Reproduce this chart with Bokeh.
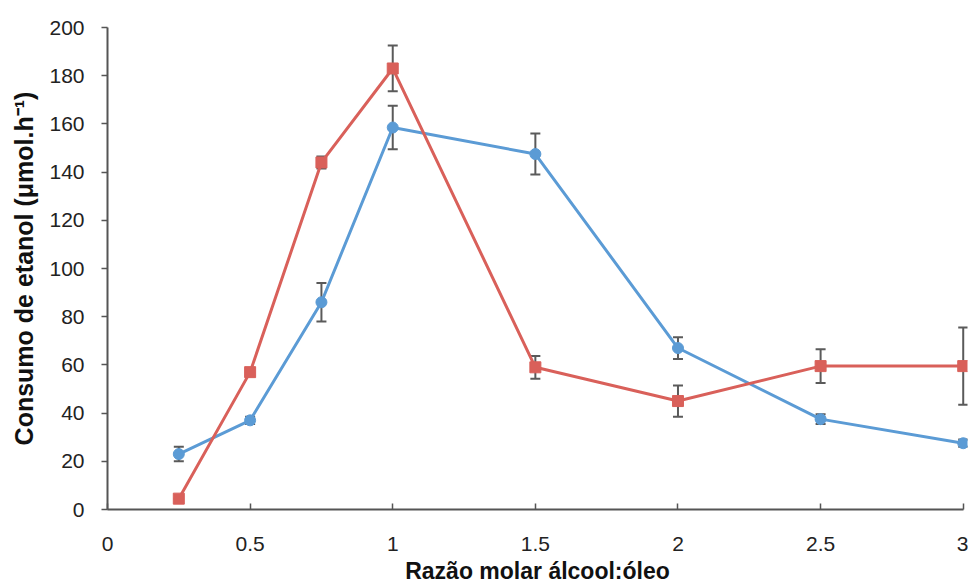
from bokeh.plotting import figure
from bokeh.models import ColumnDataSource, Whisker, TeeHead, FixedTicker, Range1d, Title
from bokeh.embed import file_html
from bokeh.resources import INLINE

x = [0.25, 0.5, 0.75, 1.0, 1.5, 2.0, 2.5, 3.0]
blue_y = [23, 37, 86, 158.5, 147.5, 67, 37.5, 27.5]
blue_err = [3, 1.5, 8, 9, 8.5, 4.5, 2, 1.5]
red_y = [4.5, 57, 144, 183, 59, 45, 59.5, 59.5]
red_err = [0, 1.5, 2.5, 9.5, 4.7, 6.5, 7, 16]
x_ticks = [0, 0.5, 1, 1.5, 2, 2.5, 3]
y_ticks = [0, 20, 40, 60, 80, 100, 120, 140, 160, 180, 200]
x_title = "Razão molar álcool:óleo"
y_title = "Consumo de etanol (μmol.h⁻¹)"

BLUE = "#5b9bd5"
RED = "#d9605a"
ERR = "#5a5a5a"

bsrc = ColumnDataSource(dict(x=x, y=blue_y,
                             up=[v + e for v, e in zip(blue_y, blue_err)],
                             lo=[v - e for v, e in zip(blue_y, blue_err)]))
rsrc = ColumnDataSource(dict(x=x, y=red_y,
                             up=[v + e for v, e in zip(red_y, red_err)],
                             lo=[v - e for v, e in zip(red_y, red_err)]))

p = figure(width=968, height=586, output_backend="svg", toolbar_location=None,
           x_range=Range1d(0, 3.015), y_range=Range1d(0, 200))
p.min_border_left = 107
p.min_border_right = 1
p.min_border_top = 27
p.min_border_bottom = 76
p.outline_line_color = None
p.xgrid.grid_line_color = None
p.ygrid.grid_line_color = None

for src in (bsrc, rsrc):
    w = Whisker(base="x", upper="up", lower="lo", source=src, dimension="height",
                line_color=ERR, line_width=2,
                upper_head=TeeHead(size=10, line_color=ERR, line_width=2),
                lower_head=TeeHead(size=10, line_color=ERR, line_width=2))
    w.level = "underlay"
    p.add_layout(w)

p.line("x", "y", source=bsrc, line_color=BLUE, line_width=3)
p.scatter("x", "y", source=bsrc, marker="circle", size=11, fill_color=BLUE, line_color=BLUE)
p.line("x", "y", source=rsrc, line_color=RED, line_width=3)
p.scatter("x", "y", source=rsrc, marker="square", size=11, fill_color=RED, line_color=RED)

p.xaxis.ticker = FixedTicker(ticks=x_ticks)
p.yaxis.ticker = FixedTicker(ticks=y_ticks)
p.xaxis.bounds = (0, 3)
p.xaxis.minor_tick_line_color = None
p.yaxis.minor_tick_line_color = None
for ax in (p.xaxis[0], p.yaxis[0]):
    ax.axis_line_color = "#555555"
    ax.axis_line_width = 2
    ax.major_tick_line_color = "#555555"
    ax.major_tick_line_width = 1.5
    ax.major_label_text_color = "#222222"
    ax.major_label_text_font = "Liberation Sans"
    ax.major_label_text_font_size = "21px"
    ax.axis_label_text_color = "#111111"
    ax.axis_label_text_font = "Liberation Sans"
    ax.axis_label_text_font_style = "bold"

p.xaxis.major_tick_in = 6
p.xaxis.major_tick_out = 0
p.xaxis.major_label_standoff = 27

p.add_layout(Title(text=x_title, align="center", standoff=5,
                   text_font="Liberation Sans", text_font_style="bold",
                   text_font_size="23px", text_color="#111111"), "below")

p.yaxis.major_tick_in = 0
p.yaxis.major_tick_out = 6
p.yaxis.major_label_standoff = 17
p.yaxis.axis_label = y_title
p.yaxis.axis_label_standoff = 8
p.yaxis.axis_label_text_font_size = "25px"

open("out.html", "w").write(file_html(p, INLINE))
